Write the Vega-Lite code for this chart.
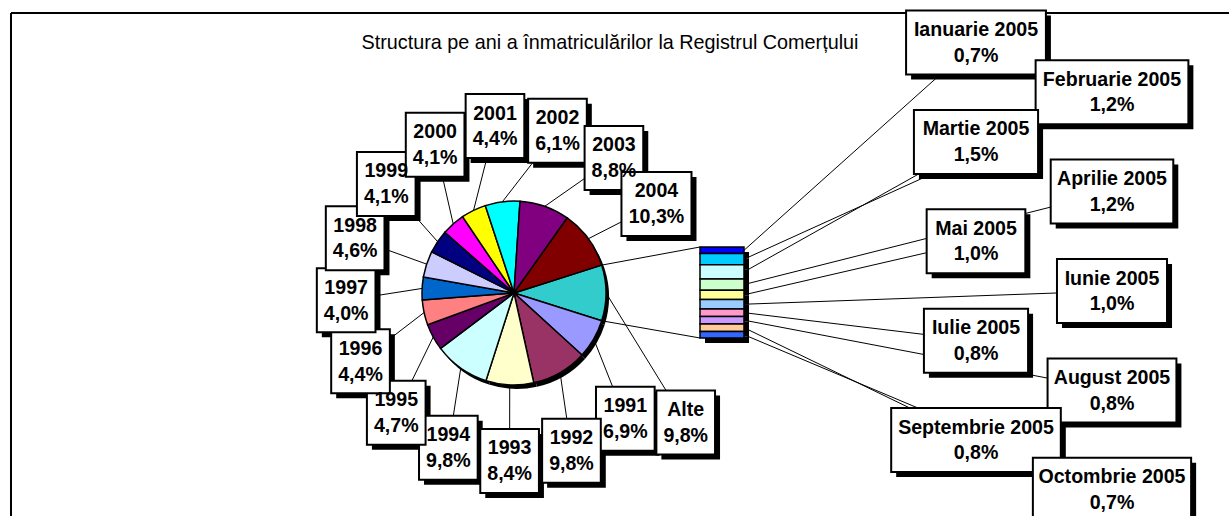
{
  "$schema": "https://vega.github.io/schema/vega-lite/v6.json",
  "width": 1229,
  "height": 516,
  "autosize": {"type": "none"},
  "padding": 0,
  "background": "white",
  "config": {"view": {"stroke": null}, "font": "Liberation Sans"},
  "datasets": {
    "pie": [
      {"cat": "Alte", "value": 9.8, "order": 0},
      {"cat": "1991", "value": 6.9, "order": 1},
      {"cat": "1992", "value": 9.8, "order": 2},
      {"cat": "1993", "value": 8.4, "order": 3},
      {"cat": "1994", "value": 9.8, "order": 4},
      {"cat": "1995", "value": 4.7, "order": 5},
      {"cat": "1996", "value": 4.4, "order": 6},
      {"cat": "1997", "value": 4.0, "order": 7},
      {"cat": "1998", "value": 4.6, "order": 8},
      {"cat": "1999", "value": 4.1, "order": 9},
      {"cat": "2000", "value": 4.1, "order": 10},
      {"cat": "2001", "value": 4.4, "order": 11},
      {"cat": "2002", "value": 6.1, "order": 12},
      {"cat": "2003", "value": 8.8, "order": 13},
      {"cat": "2004", "value": 10.3, "order": 14}
    ],
    "months": [
      {"cat": "Ianuarie 2005", "value": 0.7, "month": 1},
      {"cat": "Februarie 2005", "value": 1.2, "month": 2},
      {"cat": "Martie 2005", "value": 1.5, "month": 3},
      {"cat": "Aprilie 2005", "value": 1.2, "month": 4},
      {"cat": "Mai 2005", "value": 1.0, "month": 5},
      {"cat": "Iunie 2005", "value": 1.0, "month": 6},
      {"cat": "Iulie 2005", "value": 0.8, "month": 7},
      {"cat": "August 2005", "value": 0.8, "month": 8},
      {"cat": "Septembrie 2005", "value": 0.8, "month": 9},
      {"cat": "Octombrie 2005", "value": 0.7, "month": 10}
    ]
  },
  "resolve": {"scale": {"color": "independent"}},
  "layer": [
    {
      "data": {"values": [{}]},
      "mark": {"type": "rule", "stroke": "black", "strokeWidth": 2},
      "encoding": {
        "x": {"datum": 11, "type": "quantitative", "scale": {"domain": [0, 1229], "nice": false, "zero": false}, "axis": null},
        "x2": {"datum": 1229},
        "y": {"datum": 13, "type": "quantitative", "scale": {"domain": [0, 516], "nice": false, "zero": false, "reverse": true}, "axis": null}
      }
    },
    {
      "data": {"values": [{}]},
      "mark": {"type": "rule", "stroke": "black", "strokeWidth": 2},
      "encoding": {
        "x": {"datum": 11, "type": "quantitative", "scale": {"domain": [0, 1229], "nice": false, "zero": false}, "axis": null},
        "y": {"datum": 13, "type": "quantitative", "scale": {"domain": [0, 516], "nice": false, "zero": false, "reverse": true}, "axis": null},
        "y2": {"datum": 516}
      }
    },
    {
      "data": {"values": [{}]},
      "mark": {"type": "text", "text": "Structura pe ani a înmatriculărilor la Registrul Comerțului", "fontSize": 19.8, "align": "center", "baseline": "alphabetic", "color": "black"},
      "encoding": {
        "x": {"datum": 610, "type": "quantitative", "scale": {"domain": [0, 1229], "nice": false, "zero": false}, "axis": null},
        "y": {"datum": 49, "type": "quantitative", "scale": {"domain": [0, 516], "nice": false, "zero": false, "reverse": true}, "axis": null}
      }
    },
    {
      "data": {"name": "pie"},
      "transform": [
        {"joinaggregate": [{"op": "sum", "field": "value", "as": "total"}]},
        {"window": [{"op": "sum", "field": "value", "as": "cum"}], "sort": [{"field": "order"}], "frame": [null, 0]},
        {"calculate": "1.2629 + 2*PI*(datum.cum - datum.value/2)/datum.total", "as": "amid"},
        {"calculate": "1.2629 + 2*PI*(datum.cum - datum.value)/datum.total", "as": "a0"},
        {"calculate": "1.2629 + 2*PI*datum.cum/datum.total", "as": "a1"},
        {"calculate": "514 + 92*sin(datum.amid)", "as": "ex"},
        {"calculate": "293 - 92*cos(datum.amid)", "as": "ey"},
        {"calculate": "514 + 92*sin(datum.a0)", "as": "tx0"},
        {"calculate": "293 - 92*cos(datum.a0)", "as": "ty0"},
        {"calculate": "514 + 92*sin(datum.a1)", "as": "tx1"},
        {"calculate": "293 - 92*cos(datum.a1)", "as": "ty1"},
        {"calculate": "(datum.order == 0 ? 127 : 138.5 + 21.5*(datum.order - 1))*PI/180", "as": "la"},
        {"calculate": "datum.order == 0 ? 215 : 168", "as": "lr"},
        {"calculate": "514 + datum.lr*sin(datum.la)", "as": "lx"},
        {"calculate": "293 - datum.lr*cos(datum.la)", "as": "ly"},
        {"calculate": "replace(format(datum.value, '.1f'), '.', ',') + '%'", "as": "pct"},
        {"calculate": "datum.cat + '\\n' + datum.pct", "as": "txt"},
        {"calculate": "0.58*length(datum.cat) - 0.30*length(replace(datum.cat, regexp('[^ilI ,]','g'), '')) - 0.22*length(replace(datum.cat, regexp('[^rtf]','g'), '')) + 0.28*length(replace(datum.cat, regexp('[^mM]','g'), '')) + 0.31*length(replace(datum.cat, regexp('[^%]','g'), ''))", "as": "emA"},
        {"calculate": "0.58*length(datum.pct) - 0.30*length(replace(datum.pct, regexp('[^ilI ,]','g'), '')) - 0.22*length(replace(datum.pct, regexp('[^rtf]','g'), '')) + 0.28*length(replace(datum.pct, regexp('[^mM]','g'), '')) + 0.31*length(replace(datum.pct, regexp('[^%]','g'), ''))", "as": "emB"},
        {"calculate": "13 + 19.6*max(datum.emA, datum.emB)", "as": "bw"},
        {"calculate": "datum.lx - datum.bw/2", "as": "bx1"},
        {"calculate": "datum.lx + datum.bw/2", "as": "bx2"},
        {"calculate": "datum.ly - 32", "as": "by1"},
        {"calculate": "datum.ly + 32", "as": "by2"}
      ],
      "layer": [
        {
          "mark": {"type": "rule", "stroke": "black", "strokeWidth": 1},
          "encoding": {
            "x": {"field": "ex", "type": "quantitative", "scale": {"domain": [0, 1229], "nice": false, "zero": false}, "axis": null},
            "y": {"field": "ey", "type": "quantitative", "scale": {"domain": [0, 516], "nice": false, "zero": false, "reverse": true}, "axis": null},
            "x2": {"field": "lx"},
            "y2": {"field": "ly"}
          }
        },
        {
          "transform": [{"filter": "datum.order == 0"}],
          "mark": {"type": "rule", "stroke": "black", "strokeWidth": 1},
          "encoding": {
            "x": {"field": "tx0", "type": "quantitative", "scale": {"domain": [0, 1229], "nice": false, "zero": false}, "axis": null},
            "y": {"field": "ty0", "type": "quantitative", "scale": {"domain": [0, 516], "nice": false, "zero": false, "reverse": true}, "axis": null},
            "x2": {"datum": 700},
            "y2": {"datum": 247}
          }
        },
        {
          "transform": [{"filter": "datum.order == 0"}],
          "mark": {"type": "rule", "stroke": "black", "strokeWidth": 1},
          "encoding": {
            "x": {"field": "tx1", "type": "quantitative", "scale": {"domain": [0, 1229], "nice": false, "zero": false}, "axis": null},
            "y": {"field": "ty1", "type": "quantitative", "scale": {"domain": [0, 516], "nice": false, "zero": false, "reverse": true}, "axis": null},
            "x2": {"datum": 700},
            "y2": {"datum": 338}
          }
        },
        {
          "mark": {"type": "arc", "outerRadius": 92, "color": "black", "x": 517, "y": 297},
          "encoding": {
            "theta": {"field": "value", "type": "quantitative", "stack": true, "scale": {"range": [1.2629, 7.5461]}},
            "order": {"field": "order", "type": "quantitative"}
          }
        },
        {
          "mark": {"type": "arc", "outerRadius": 92, "stroke": "black", "strokeWidth": 1.5, "x": 514, "y": 293},
          "encoding": {
            "theta": {"field": "value", "type": "quantitative", "stack": true, "scale": {"range": [1.2629, 7.5461]}},
            "order": {"field": "order", "type": "quantitative"},
            "color": {
              "field": "cat", "type": "nominal", "legend": null,
              "scale": {
                "domain": ["Alte", "1991", "1992", "1993", "1994", "1995", "1996", "1997", "1998", "1999", "2000", "2001", "2002", "2003", "2004"],
                "range": ["#33CCCC", "#9999FF", "#993366", "#FFFFCC", "#CCFFFF", "#660066", "#FF8080", "#0066CC", "#CCCCFF", "#000080", "#FF00FF", "#FFFF00", "#00FFFF", "#800080", "#800000"]
              }
            }
          }
        },
        {
          "mark": {"type": "rect", "color": "black", "xOffset": 5, "x2Offset": 5, "yOffset": 5, "y2Offset": 5},
          "encoding": {
            "x": {"field": "bx1", "type": "quantitative", "scale": {"domain": [0, 1229], "nice": false, "zero": false}, "axis": null},
            "x2": {"field": "bx2"},
            "y": {"field": "by1", "type": "quantitative", "scale": {"domain": [0, 516], "nice": false, "zero": false, "reverse": true}, "axis": null},
            "y2": {"field": "by2"}
          }
        },
        {
          "mark": {"type": "rect", "fill": "white", "stroke": "black", "strokeWidth": 2},
          "encoding": {
            "x": {"field": "bx1", "type": "quantitative", "scale": {"domain": [0, 1229], "nice": false, "zero": false}, "axis": null},
            "x2": {"field": "bx2"},
            "y": {"field": "by1", "type": "quantitative", "scale": {"domain": [0, 516], "nice": false, "zero": false, "reverse": true}, "axis": null},
            "y2": {"field": "by2"}
          }
        },
        {
          "mark": {"type": "text", "fontWeight": "bold", "fontSize": 19.6, "lineBreak": "\n", "lineHeight": 25.7, "align": "center", "baseline": "alphabetic", "dy": -6.5, "color": "black"},
          "encoding": {
            "x": {"field": "lx", "type": "quantitative", "scale": {"domain": [0, 1229], "nice": false, "zero": false}, "axis": null},
            "y": {"field": "ly", "type": "quantitative", "scale": {"domain": [0, 516], "nice": false, "zero": false, "reverse": true}, "axis": null},
            "text": {"field": "txt", "type": "nominal"}
          }
        }
      ]
    },
    {
      "data": {"name": "months"},
      "transform": [
        {"window": [{"op": "sum", "field": "value", "as": "cum"}], "sort": [{"field": "month"}], "frame": [null, 0]},
        {"calculate": "247 + 9.381*(datum.cum - datum.value)", "as": "sy0"},
        {"calculate": "247 + 9.381*datum.cum", "as": "sy1"},
        {"calculate": "(datum.sy0 + datum.sy1)/2", "as": "sym"},
        {"calculate": "42.5 + 49.7*(datum.month - 1)", "as": "ly"},
        {"calculate": "datum.month % 2 == 1 ? 976 : 1112", "as": "lx"},
        {"calculate": "replace(format(datum.value, '.1f'), '.', ',') + '%'", "as": "pct"},
        {"calculate": "datum.cat + '\\n' + datum.pct", "as": "txt"},
        {"calculate": "0.58*length(datum.cat) - 0.30*length(replace(datum.cat, regexp('[^ilI ,]','g'), '')) - 0.22*length(replace(datum.cat, regexp('[^rtf]','g'), '')) + 0.28*length(replace(datum.cat, regexp('[^mM]','g'), '')) + 0.31*length(replace(datum.cat, regexp('[^%]','g'), ''))", "as": "emA"},
        {"calculate": "14 + 19.6*datum.emA", "as": "bw"},
        {"calculate": "datum.lx - datum.bw/2", "as": "bx1"},
        {"calculate": "datum.lx + datum.bw/2", "as": "bx2"},
        {"calculate": "datum.ly - 32", "as": "by1"},
        {"calculate": "datum.ly + 32", "as": "by2"},
        {"calculate": "700", "as": "barL"},
        {"calculate": "744", "as": "barR"}
      ],
      "layer": [
        {
          "mark": {"type": "rule", "stroke": "black", "strokeWidth": 1},
          "encoding": {
            "x": {"field": "barR", "type": "quantitative", "scale": {"domain": [0, 1229], "nice": false, "zero": false}, "axis": null},
            "y": {"field": "sym", "type": "quantitative", "scale": {"domain": [0, 516], "nice": false, "zero": false, "reverse": true}, "axis": null},
            "x2": {"field": "lx"},
            "y2": {"field": "ly"}
          }
        },
        {
          "mark": {"type": "rect", "color": "black", "xOffset": 5, "x2Offset": 5, "yOffset": 5, "y2Offset": 5},
          "encoding": {
            "x": {"field": "barL", "type": "quantitative", "scale": {"domain": [0, 1229], "nice": false, "zero": false}, "axis": null},
            "x2": {"field": "barR"},
            "y": {"field": "sy0", "type": "quantitative", "scale": {"domain": [0, 516], "nice": false, "zero": false, "reverse": true}, "axis": null},
            "y2": {"field": "sy1"}
          }
        },
        {
          "mark": {"type": "rect", "stroke": "black", "strokeWidth": 1.5},
          "encoding": {
            "x": {"field": "barL", "type": "quantitative", "scale": {"domain": [0, 1229], "nice": false, "zero": false}, "axis": null},
            "x2": {"field": "barR"},
            "y": {"field": "sy0", "type": "quantitative", "scale": {"domain": [0, 516], "nice": false, "zero": false, "reverse": true}, "axis": null},
            "y2": {"field": "sy1"},
            "color": {
              "field": "cat", "type": "nominal", "legend": null,
              "scale": {
                "domain": ["Ianuarie 2005", "Februarie 2005", "Martie 2005", "Aprilie 2005", "Mai 2005", "Iunie 2005", "Iulie 2005", "August 2005", "Septembrie 2005", "Octombrie 2005"],
                "range": ["#0000FF", "#00CCFF", "#CCFFFF", "#CCFFCC", "#FFFF99", "#99CCFF", "#FF99CC", "#CC99FF", "#FFCC99", "#3366FF"]
              }
            }
          }
        },
        {
          "mark": {"type": "rect", "color": "black", "xOffset": 5, "x2Offset": 5, "yOffset": 5, "y2Offset": 5},
          "encoding": {
            "x": {"field": "bx1", "type": "quantitative", "scale": {"domain": [0, 1229], "nice": false, "zero": false}, "axis": null},
            "x2": {"field": "bx2"},
            "y": {"field": "by1", "type": "quantitative", "scale": {"domain": [0, 516], "nice": false, "zero": false, "reverse": true}, "axis": null},
            "y2": {"field": "by2"}
          }
        },
        {
          "mark": {"type": "rect", "fill": "white", "stroke": "black", "strokeWidth": 2},
          "encoding": {
            "x": {"field": "bx1", "type": "quantitative", "scale": {"domain": [0, 1229], "nice": false, "zero": false}, "axis": null},
            "x2": {"field": "bx2"},
            "y": {"field": "by1", "type": "quantitative", "scale": {"domain": [0, 516], "nice": false, "zero": false, "reverse": true}, "axis": null},
            "y2": {"field": "by2"}
          }
        },
        {
          "mark": {"type": "text", "fontWeight": "bold", "fontSize": 19.6, "lineBreak": "\n", "lineHeight": 25.7, "align": "center", "baseline": "alphabetic", "dy": -6.5, "color": "black"},
          "encoding": {
            "x": {"field": "lx", "type": "quantitative", "scale": {"domain": [0, 1229], "nice": false, "zero": false}, "axis": null},
            "y": {"field": "ly", "type": "quantitative", "scale": {"domain": [0, 516], "nice": false, "zero": false, "reverse": true}, "axis": null},
            "text": {"field": "txt", "type": "nominal"}
          }
        }
      ]
    }
  ]
}
